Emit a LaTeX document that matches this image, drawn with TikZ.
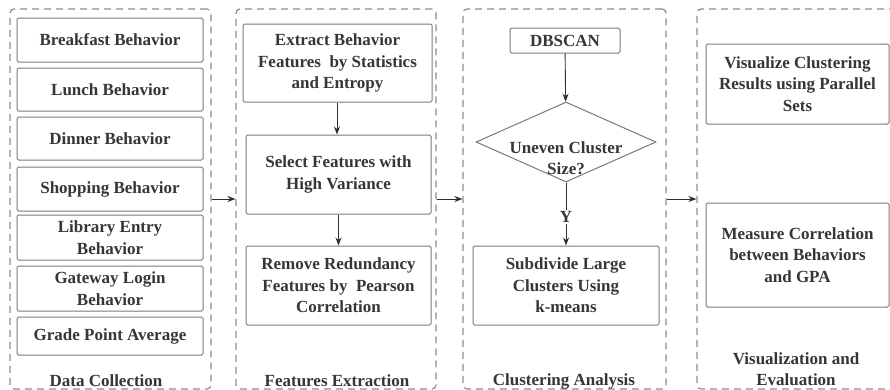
\documentclass[tikz,border=0pt]{standalone}
\usepackage{fontspec}
\setmainfont{Liberation Serif}[BoldFont={Liberation Serif Bold},ItalicFont={Liberation Serif Italic}]
\usetikzlibrary{arrows.meta,shapes.geometric}
\definecolor{txtgray}{HTML}{363636}
\definecolor{boxgray}{HTML}{7A7A7A}
\definecolor{dashgray}{HTML}{8C8C8C}
\definecolor{arrgray}{HTML}{2E2E2E}
\tikzset{
  txt/.style={font=\bfseries\fontsize{17}{21.5}\selectfont, text=txtgray, align=center, inner sep=0pt},
  procbox/.style={txt, draw=boxgray, line width=1pt, rounded corners=1.5pt},
  container/.style={draw=dashgray, line width=1.2pt, dash pattern=on 7pt off 5pt, rounded corners=4pt, inner sep=0pt},
  decbox/.style={diamond, draw=boxgray, line width=1pt, inner sep=0pt},
  arr/.style={draw=arrgray, line width=0.9pt, -{Stealth[length=8pt,width=6pt]}},
}
\begin{document}
\begin{tikzpicture}[x=1pt,y=-1pt]
\clip (0,0) rectangle (890,389);
\fill[white] (0,0) rectangle (890,389);
% containers
\node[container, minimum width=201pt, minimum height=380pt] (c1) at (110.5,199) {};
\node[container, minimum width=200pt, minimum height=380pt] (c2) at (336,199) {};
\node[container, minimum width=203pt, minimum height=380pt] (c3) at (564.5,199) {};
\node[container, minimum width=203pt, minimum height=380pt] (c4) at (798.5,199) {};
% column 1
\node[procbox, minimum width=186pt, minimum height=44pt] (b1) at (110,40) {Breakfast Behavior};
\node[procbox, minimum width=186pt, minimum height=43pt] (b2) at (110,89.5) {Lunch Behavior};
\node[procbox, minimum width=186pt, minimum height=43pt] (b3) at (110,138.5) {Dinner Behavior};
\node[procbox, minimum width=186pt, minimum height=44pt] (b4) at (110,189) {Shopping Behavior};
\node[procbox, minimum width=186pt, minimum height=45pt] (b5) at (110,237.5) {Library Entry\\Behavior};
\node[procbox, minimum width=186pt, minimum height=45pt] (b6) at (110,288.5) {Gateway Login\\Behavior};
\node[procbox, minimum width=186pt, minimum height=38pt] (b7) at (110,336) {Grade Point Average};
\node[txt] (t1) at (106,381) {Data Collection};
% column 2
\node[procbox, minimum width=189pt, minimum height=78pt] (e1) at (337.5,63) {Extract Behavior\\Features\ \ by Statistics\\and Entropy};
\node[procbox, minimum width=185pt, minimum height=79pt] (e2) at (338.5,174.5) {Select Features with\\High Variance};
\node[procbox, minimum width=185pt, minimum height=79pt] (e3) at (338.5,285.5) {Remove Redundancy\\Features by\ \ Pearson\\Correlation};
\node[txt] (t2) at (337,381) {Features Extraction};
\draw[arr] (e1.south -| 337,0) -- (e2.north -| 337,0);
\draw[arr] (e2) -- (e3);
% column 3
\node[procbox, minimum width=110pt, minimum height=25pt] (db) at (565,40.5) {DBSCAN};
\node[decbox, minimum width=180pt, minimum height=80pt] (dec) at (566,142) {};
\node[txt] (dect) at (566,158) {Uneven Cluster\\Size?};
\node[procbox, minimum width=186pt, minimum height=79pt] (sub) at (566,285.5) {Subdivide Large\\Clusters Using\\k-means};
\node[txt] (t3) at (564,381) {Clustering Analysis};
\draw[arr] (db) -- (dec);
\draw[arr] (dec) -- node[txt, fill=white, inner sep=1.5pt, pos=0.55] (ylab) {Y} (sub);
% column 4
\node[procbox, minimum width=183pt, minimum height=80pt] (v1) at (797.5,84) {Visualize Clustering\\Results using Parallel\\Sets};
\node[procbox, minimum width=183pt, minimum height=104pt] (v2) at (797.5,255) {Measure Correlation\\between Behaviors\\and GPA};
\node[txt] (t4) at (796,369) {Visualization and\\Evaluation};
% connectors between stages
\draw[arr] (c1.east) -- (c2.west);
\draw[arr] (c2.east) -- (c3.west);
\draw[arr] (c3.east) -- (c4.west);
\end{tikzpicture}
\end{document}
